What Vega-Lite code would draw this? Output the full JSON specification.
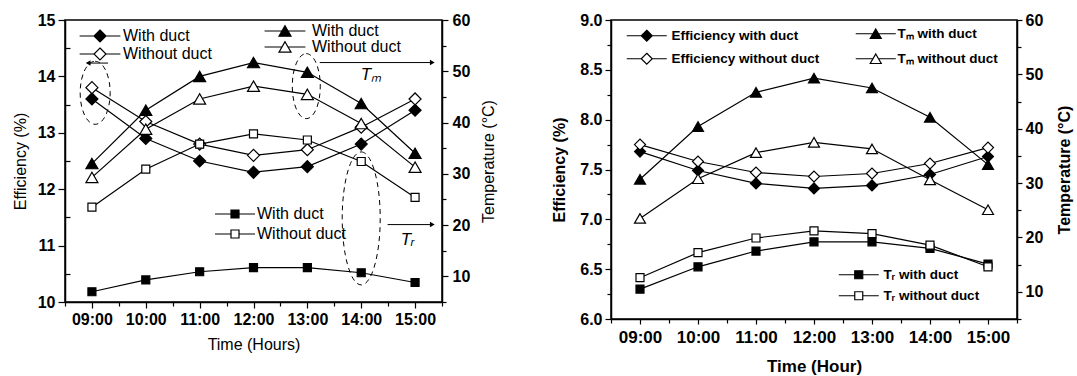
{
  "$schema": "https://vega.github.io/schema/vega-lite/v6.json",
  "background": "white",
  "padding": {"left": 11, "top": 9, "right": 0, "bottom": 0},
  "spacing": 53,
  "config": {
    "font": "Liberation Sans",
    "view": {"stroke": "black", "strokeWidth": 1.5},
    "axis": {"domainColor": "black", "domainWidth": 1.5, "tickColor": "black", "tickWidth": 1.2, "labelColor": "black", "titleColor": "black", "grid": false, "labelFont": "Liberation Sans", "titleFont": "Liberation Sans", "labelFontWeight": "bold", "labelFontSize": 16, "titleFontSize": 16, "titleFontWeight": "normal", "labelOverlap": false},
    "legend": {"labelColor": "black", "labelFont": "Liberation Sans", "orient": "none", "title": null, "padding": 0, "symbolStrokeColor": "black", "symbolStrokeWidth": 1.2}
  },
  "datasets": {
    "left": [
      {"v": "Eff", "s": "With duct", "h": 9, "y": 13.6}, {"v": "Eff", "s": "With duct", "h": 10, "y": 12.9}, {"v": "Eff", "s": "With duct", "h": 11, "y": 12.5}, {"v": "Eff", "s": "With duct", "h": 12, "y": 12.3}, {"v": "Eff", "s": "With duct", "h": 13, "y": 12.4}, {"v": "Eff", "s": "With duct", "h": 14, "y": 12.8}, {"v": "Eff", "s": "With duct", "h": 15, "y": 13.4},
      {"v": "Eff", "s": "Without duct", "h": 9, "y": 13.8}, {"v": "Eff", "s": "Without duct", "h": 10, "y": 13.2}, {"v": "Eff", "s": "Without duct", "h": 11, "y": 12.8}, {"v": "Eff", "s": "Without duct", "h": 12, "y": 12.6}, {"v": "Eff", "s": "Without duct", "h": 13, "y": 12.7}, {"v": "Eff", "s": "Without duct", "h": 14, "y": 13.1}, {"v": "Eff", "s": "Without duct", "h": 15, "y": 13.6},
      {"v": "Tm", "s": "With duct", "h": 9, "y": 32.0}, {"v": "Tm", "s": "With duct", "h": 10, "y": 42.4}, {"v": "Tm", "s": "With duct", "h": 11, "y": 49.0}, {"v": "Tm", "s": "With duct", "h": 12, "y": 51.7}, {"v": "Tm", "s": "With duct", "h": 13, "y": 49.8}, {"v": "Tm", "s": "With duct", "h": 14, "y": 43.7}, {"v": "Tm", "s": "With duct", "h": 15, "y": 34.0},
      {"v": "Tm", "s": "Without duct", "h": 9, "y": 29.3}, {"v": "Tm", "s": "Without duct", "h": 10, "y": 38.7}, {"v": "Tm", "s": "Without duct", "h": 11, "y": 44.6}, {"v": "Tm", "s": "Without duct", "h": 12, "y": 47.1}, {"v": "Tm", "s": "Without duct", "h": 13, "y": 45.5}, {"v": "Tm", "s": "Without duct", "h": 14, "y": 39.8}, {"v": "Tm", "s": "Without duct", "h": 15, "y": 31.3},
      {"v": "Tr", "s": "With duct", "h": 9, "y": 7.0}, {"v": "Tr", "s": "With duct", "h": 10, "y": 9.3}, {"v": "Tr", "s": "With duct", "h": 11, "y": 10.9}, {"v": "Tr", "s": "With duct", "h": 12, "y": 11.7}, {"v": "Tr", "s": "With duct", "h": 13, "y": 11.7}, {"v": "Tr", "s": "With duct", "h": 14, "y": 10.7}, {"v": "Tr", "s": "With duct", "h": 15, "y": 8.8},
      {"v": "Tr", "s": "Without duct", "h": 9, "y": 23.5}, {"v": "Tr", "s": "Without duct", "h": 10, "y": 30.9}, {"v": "Tr", "s": "Without duct", "h": 11, "y": 35.8}, {"v": "Tr", "s": "Without duct", "h": 12, "y": 37.8}, {"v": "Tr", "s": "Without duct", "h": 13, "y": 36.6}, {"v": "Tr", "s": "Without duct", "h": 14, "y": 32.4}, {"v": "Tr", "s": "Without duct", "h": 15, "y": 25.4}
    ],
    "right": [
      {"v": "Eff", "s": "With duct", "h": 9, "y": 7.68}, {"v": "Eff", "s": "With duct", "h": 10, "y": 7.49}, {"v": "Eff", "s": "With duct", "h": 11, "y": 7.36}, {"v": "Eff", "s": "With duct", "h": 12, "y": 7.31}, {"v": "Eff", "s": "With duct", "h": 13, "y": 7.34}, {"v": "Eff", "s": "With duct", "h": 14, "y": 7.45}, {"v": "Eff", "s": "With duct", "h": 15, "y": 7.63},
      {"v": "Eff", "s": "Without duct", "h": 9, "y": 7.75}, {"v": "Eff", "s": "Without duct", "h": 10, "y": 7.58}, {"v": "Eff", "s": "Without duct", "h": 11, "y": 7.47}, {"v": "Eff", "s": "Without duct", "h": 12, "y": 7.43}, {"v": "Eff", "s": "Without duct", "h": 13, "y": 7.46}, {"v": "Eff", "s": "Without duct", "h": 14, "y": 7.56}, {"v": "Eff", "s": "Without duct", "h": 15, "y": 7.72},
      {"v": "Tm", "s": "With duct", "h": 9, "y": 30.7}, {"v": "Tm", "s": "With duct", "h": 10, "y": 40.4}, {"v": "Tm", "s": "With duct", "h": 11, "y": 46.7}, {"v": "Tm", "s": "With duct", "h": 12, "y": 49.3}, {"v": "Tm", "s": "With duct", "h": 13, "y": 47.5}, {"v": "Tm", "s": "With duct", "h": 14, "y": 42.1}, {"v": "Tm", "s": "With duct", "h": 15, "y": 33.4},
      {"v": "Tm", "s": "Without duct", "h": 9, "y": 23.5}, {"v": "Tm", "s": "Without duct", "h": 10, "y": 30.8}, {"v": "Tm", "s": "Without duct", "h": 11, "y": 35.6}, {"v": "Tm", "s": "Without duct", "h": 12, "y": 37.5}, {"v": "Tm", "s": "Without duct", "h": 13, "y": 36.3}, {"v": "Tm", "s": "Without duct", "h": 14, "y": 30.6}, {"v": "Tm", "s": "Without duct", "h": 15, "y": 25.1},
      {"v": "Tr", "s": "With duct", "h": 9, "y": 10.5}, {"v": "Tr", "s": "With duct", "h": 10, "y": 14.6}, {"v": "Tr", "s": "With duct", "h": 11, "y": 17.5}, {"v": "Tr", "s": "With duct", "h": 12, "y": 19.2}, {"v": "Tr", "s": "With duct", "h": 13, "y": 19.2}, {"v": "Tr", "s": "With duct", "h": 14, "y": 18.0}, {"v": "Tr", "s": "With duct", "h": 15, "y": 15.1},
      {"v": "Tr", "s": "Without duct", "h": 9, "y": 12.6}, {"v": "Tr", "s": "Without duct", "h": 10, "y": 17.2}, {"v": "Tr", "s": "Without duct", "h": 11, "y": 19.9}, {"v": "Tr", "s": "Without duct", "h": 12, "y": 21.2}, {"v": "Tr", "s": "Without duct", "h": 13, "y": 20.7}, {"v": "Tr", "s": "Without duct", "h": 14, "y": 18.6}, {"v": "Tr", "s": "Without duct", "h": 15, "y": 14.6}
    ],
    "notes": [
      {"k": "arrow", "xs": 9.30, "xe": 8.93, "y": 51.6, "dir": "left"},
      {"k": "arrow", "xs": 13.23, "xe": 15.32, "y": 51.7, "dir": "right"},
      {"k": "arrow", "xs": 14.49, "xe": 15.32, "y": 20.1, "dir": "right"},
      {"k": "ellipse", "id": "a", "x": 9.06, "y": 45.8},
      {"k": "ellipse", "id": "b", "x": 12.98, "y": 47.1},
      {"k": "ellipse", "id": "c", "x": 14.0, "y": 21.3},
      {"k": "label", "x": 14.18, "y": 49.3, "t": "Tₘ"},
      {"k": "label", "x": 14.86, "y": 17.1, "t": "Tᵣ"}
    ]
  },
  "hconcat": [
    {
      "width": 377,
      "height": 282,
      "data": {"name": "left"},
      "layer": [
        {
          "transform": [{"filter": "datum.v == 'Eff'"}],
          "mark": {"type": "line", "stroke": "black", "strokeWidth": 1.2},
          "encoding": {
            "x": {"field": "h", "type": "quantitative", "scale": {"domain": [8.5, 15.5], "nice": false, "zero": false}, "axis": {"orient": "bottom", "values": [9, 10, 11, 12, 13, 14, 15], "labelExpr": "(datum.value < 10 ? '0' : '') + datum.value + ':00'", "title": "Time (Hours)", "tickSize": 6, "labelPadding": 3, "titlePadding": 9}},
            "y": {"field": "y", "type": "quantitative", "scale": {"domain": [10, 15], "nice": false, "zero": false}, "axis": {"orient": "left", "values": [10, 11, 12, 13, 14, 15], "title": "Efficiency (%)", "tickSize": 7, "labelPadding": 3, "titlePadding": 9}},
            "detail": {"field": "s"}
          }
        },
        {
          "transform": [{"filter": "datum.v == 'Eff'"}],
          "mark": {"type": "point", "shape": "diamond", "filled": true, "stroke": "black", "strokeWidth": 1.2, "size": 144, "opacity": 1},
          "encoding": {
            "x": {"field": "h", "type": "quantitative", "scale": {"domain": [8.5, 15.5], "nice": false, "zero": false}, "axis": {"orient": "bottom", "values": [8.5, 9.5, 10.5, 11.5, 12.5, 13.5, 14.5, 15.5], "labels": false, "domain": false, "tickSize": 4, "title": null}},
            "y": {"field": "y", "type": "quantitative", "scale": {"domain": [10, 15], "nice": false, "zero": false}, "axis": {"orient": "left", "values": [10.5, 11.5, 12.5, 13.5, 14.5], "labels": false, "domain": false, "tickSize": -5, "title": null}},
            "fill": {"field": "s", "type": "nominal", "scale": {"domain": ["With duct", "Without duct"], "range": ["black", "white"]}, "legend": {"legendX": 27, "legendY": 8, "symbolType": "M -3.4 0 L -1 0 M 1 0 L 3.4 0 M 0 -1 L 1 0 L 0 1 L -1 0 Z", "symbolSize": 144, "labelFontSize": 16, "labelOffset": 15, "rowPadding": 0}}
          }
        },
        {
          "transform": [{"filter": "datum.v == 'Tm'"}],
          "mark": {"type": "line", "stroke": "black", "strokeWidth": 1.2},
          "encoding": {
            "x": {"field": "h", "type": "quantitative", "scale": {"domain": [8.5, 15.5], "nice": false, "zero": false}, "axis": null},
            "y": {"field": "y", "type": "quantitative", "scale": {"domain": [5, 60], "nice": false, "zero": false}, "axis": {"orient": "right", "values": [10, 20, 30, 40, 50, 60], "title": "Temperature (°C)", "tickSize": 6, "labelPadding": 4, "titlePadding": 11, "titleAngle": 270, "titleBaseline": "top"}},
            "detail": {"field": "s"}
          }
        },
        {
          "transform": [{"filter": "datum.v == 'Tm'"}],
          "mark": {"type": "point", "shape": "triangle-up", "filled": true, "stroke": "black", "strokeWidth": 1.2, "size": 144, "opacity": 1},
          "encoding": {
            "x": {"field": "h", "type": "quantitative", "scale": {"domain": [8.5, 15.5], "nice": false, "zero": false}, "axis": null},
            "y": {"field": "y", "type": "quantitative", "scale": {"domain": [5, 60], "nice": false, "zero": false}, "axis": {"orient": "right", "values": [5, 15, 25, 35, 45, 55], "labels": false, "domain": false, "tickSize": 4, "title": null}},
            "fill": {"field": "s", "type": "nominal", "scale": {"domain": ["With duct", "Without duct"], "range": ["black", "white"]}, "legend": {"legendX": 212, "legendY": 3, "symbolType": "M -3.4 0 L -0.5 0 M 0.5 0 L 3.4 0 M 0 -0.866 L 1 0.866 L -1 0.866 Z", "symbolSize": 144, "labelFontSize": 16, "labelOffset": 19, "rowPadding": -1}}
          }
        },
        {
          "transform": [{"filter": "datum.v == 'Tr'"}],
          "mark": {"type": "line", "stroke": "black", "strokeWidth": 1.2},
          "encoding": {
            "x": {"field": "h", "type": "quantitative", "scale": {"domain": [8.5, 15.5], "nice": false, "zero": false}, "axis": null},
            "y": {"field": "y", "type": "quantitative", "scale": {"domain": [5, 60], "nice": false, "zero": false}, "axis": null},
            "detail": {"field": "s"}
          }
        },
        {
          "transform": [{"filter": "datum.v == 'Tr'"}],
          "mark": {"type": "point", "shape": "square", "filled": true, "stroke": "black", "strokeWidth": 1.2, "size": 64, "opacity": 1},
          "encoding": {
            "x": {"field": "h", "type": "quantitative", "scale": {"domain": [8.5, 15.5], "nice": false, "zero": false}, "axis": null},
            "y": {"field": "y", "type": "quantitative", "scale": {"domain": [5, 60], "nice": false, "zero": false}, "axis": null},
            "fill": {"field": "s", "type": "nominal", "scale": {"domain": ["With duct", "Without duct"], "range": ["black", "white"]}, "legend": {"legendX": 162, "legendY": 186, "symbolType": "M -5 0 L -1 0 M 1 0 L 5 0 M -1 -1 L 1 -1 L 1 1 L -1 1 Z", "symbolSize": 64, "labelFontSize": 16, "labelOffset": 14, "rowPadding": 4}}
          }
        },
        {
          "data": {"name": "notes"},
          "transform": [{"filter": "datum.k == 'arrow'"}],
          "mark": {"type": "rule", "stroke": "black", "strokeWidth": 1},
          "encoding": {
            "x": {"field": "xs", "type": "quantitative", "scale": {"domain": [8.5, 15.5], "nice": false, "zero": false}, "axis": null},
            "x2": {"field": "xe"},
            "y": {"field": "y", "type": "quantitative", "scale": {"domain": [5, 60], "nice": false, "zero": false}, "axis": null}
          }
        },
        {
          "data": {"name": "notes"},
          "transform": [{"filter": "datum.k == 'arrow'"}],
          "mark": {"type": "point", "filled": true, "fill": "black", "size": 30, "opacity": 1},
          "encoding": {
            "x": {"field": "xe", "type": "quantitative", "scale": {"domain": [8.5, 15.5], "nice": false, "zero": false}, "axis": null},
            "y": {"field": "y", "type": "quantitative", "scale": {"domain": [5, 60], "nice": false, "zero": false}, "axis": null},
            "shape": {"field": "dir", "type": "nominal", "scale": {"domain": ["left", "right"], "range": ["triangle-left", "triangle-right"]}, "legend": null}
          }
        },
        {
          "data": {"name": "notes"},
          "transform": [{"filter": "datum.k == 'ellipse'"}],
          "mark": {"type": "point", "filled": false, "stroke": "black", "strokeWidth": 1, "strokeDash": [5, 4], "size": 4, "opacity": 1},
          "encoding": {
            "x": {"field": "x", "type": "quantitative", "scale": {"domain": [8.5, 15.5], "nice": false, "zero": false}, "axis": null},
            "y": {"field": "y", "type": "quantitative", "scale": {"domain": [5, 60], "nice": false, "zero": false}, "axis": null},
            "shape": {"field": "id", "type": "nominal", "scale": {"domain": ["a", "b", "c"], "range": ["M 0 -31.5 A 15 31.5 0 1 1 0 31.5 A 15 31.5 0 1 1 0 -31.5", "M 0 -32.5 A 14 32.5 0 1 1 0 32.5 A 14 32.5 0 1 1 0 -32.5", "M 0 -66.5 A 19 66.5 0 1 1 0 66.5 A 19 66.5 0 1 1 0 -66.5"]}, "legend": null}
          }
        },
        {
          "data": {"name": "notes"},
          "transform": [{"filter": "datum.k == 'label'"}],
          "mark": {"type": "text", "fontSize": 17, "fontStyle": "italic", "align": "center", "baseline": "middle", "color": "black"},
          "encoding": {
            "x": {"field": "x", "type": "quantitative", "scale": {"domain": [8.5, 15.5], "nice": false, "zero": false}, "axis": null},
            "y": {"field": "y", "type": "quantitative", "scale": {"domain": [5, 60], "nice": false, "zero": false}, "axis": null},
            "text": {"field": "t"}
          }
        }
      ],
      "resolve": {"scale": {"x": "independent", "y": "independent", "fill": "independent", "shape": "independent"}}
    },
    {
      "width": 406,
      "height": 299,
      "title": {"text": " ", "fontSize": 2, "offset": 0},
      "data": {"name": "right"},
      "layer": [
        {
          "transform": [{"filter": "datum.v == 'Eff'"}],
          "mark": {"type": "line", "stroke": "black", "strokeWidth": 1.2},
          "encoding": {
            "x": {"field": "h", "type": "quantitative", "scale": {"domain": [8.5, 15.5], "nice": false, "zero": false}, "axis": {"orient": "bottom", "values": [9, 10, 11, 12, 13, 14, 15], "labelExpr": "(datum.value < 10 ? '0' : '') + datum.value + ':00'", "title": "Time (Hour)", "titleFontWeight": "bold", "titleFontSize": 17, "labelFontSize": 17, "tickSize": 5, "labelPadding": 5, "titlePadding": 13}},
            "y": {"field": "y", "type": "quantitative", "scale": {"domain": [6, 9], "nice": false, "zero": false}, "axis": {"orient": "left", "values": [6, 6.5, 7, 7.5, 8, 8.5, 9], "format": ".1f", "title": "Efficiency (%)", "titleFontWeight": "bold", "tickSize": 6, "labelPadding": 3, "titlePadding": 12}},
            "detail": {"field": "s"}
          }
        },
        {
          "transform": [{"filter": "datum.v == 'Eff'"}],
          "mark": {"type": "point", "shape": "diamond", "filled": true, "stroke": "black", "strokeWidth": 1.2, "size": 121, "opacity": 1},
          "encoding": {
            "x": {"field": "h", "type": "quantitative", "scale": {"domain": [8.5, 15.5], "nice": false, "zero": false}, "axis": {"orient": "bottom", "values": [8.5, 9.5, 10.5, 11.5, 12.5, 13.5, 14.5, 15.5], "labels": false, "domain": false, "tickSize": 4, "title": null}},
            "y": {"field": "y", "type": "quantitative", "scale": {"domain": [6, 9], "nice": false, "zero": false}, "axis": {"orient": "left", "values": [6.25, 6.75, 7.25, 7.75, 8.25, 8.75], "labels": false, "domain": false, "tickSize": 4, "title": null}},
            "fill": {"field": "s", "type": "nominal", "scale": {"domain": ["With duct", "Without duct"], "range": ["black", "white"]}, "legend": {"legendX": 29, "legendY": 9, "labelExpr": "datum.label == 'With duct' ? 'Efficiency with duct' : 'Efficiency without duct'", "symbolType": "M -3.64 0 L -1 0 M 1 0 L 3.64 0 M 0 -1 L 1 0 L 0 1 L -1 0 Z", "symbolSize": 121, "labelFontSize": 13.5, "labelFontWeight": "bold", "labelOffset": 18, "rowPadding": 6}}
          }
        },
        {
          "transform": [{"filter": "datum.v == 'Tm'"}],
          "mark": {"type": "line", "stroke": "black", "strokeWidth": 1.2},
          "encoding": {
            "x": {"field": "h", "type": "quantitative", "scale": {"domain": [8.5, 15.5], "nice": false, "zero": false}, "axis": null},
            "y": {"field": "y", "type": "quantitative", "scale": {"domain": [5, 60], "nice": false, "zero": false}, "axis": {"orient": "right", "values": [10, 20, 30, 40, 50, 60], "title": "Temperature (°C)", "titleFontWeight": "bold", "tickSize": 5, "labelPadding": 3, "titlePadding": 14, "titleAngle": 270, "titleBaseline": "top"}},
            "detail": {"field": "s"}
          }
        },
        {
          "transform": [{"filter": "datum.v == 'Tm'"}],
          "mark": {"type": "point", "shape": "triangle-up", "filled": true, "stroke": "black", "strokeWidth": 1.2, "size": 121, "opacity": 1},
          "encoding": {
            "x": {"field": "h", "type": "quantitative", "scale": {"domain": [8.5, 15.5], "nice": false, "zero": false}, "axis": null},
            "y": {"field": "y", "type": "quantitative", "scale": {"domain": [5, 60], "nice": false, "zero": false}, "axis": {"orient": "right", "values": [5, 15, 25, 35, 45, 55], "labels": false, "domain": false, "tickSize": 4, "title": null}},
            "fill": {"field": "s", "type": "nominal", "scale": {"domain": ["With duct", "Without duct"], "range": ["black", "white"]}, "legend": {"legendX": 258, "legendY": 7, "labelExpr": "datum.label == 'With duct' ? 'Tₘ with duct' : 'Tₘ  without duct'", "symbolType": "M -3.64 0 L -0.5 0 M 0.5 0 L 3.64 0 M 0 -0.866 L 1 0.866 L -1 0.866 Z", "symbolSize": 121, "labelFontSize": 13.5, "labelFontWeight": "bold", "labelOffset": 15, "rowPadding": 10}}
          }
        },
        {
          "transform": [{"filter": "datum.v == 'Tr'"}],
          "mark": {"type": "line", "stroke": "black", "strokeWidth": 1.2},
          "encoding": {
            "x": {"field": "h", "type": "quantitative", "scale": {"domain": [8.5, 15.5], "nice": false, "zero": false}, "axis": null},
            "y": {"field": "y", "type": "quantitative", "scale": {"domain": [5, 60], "nice": false, "zero": false}, "axis": null},
            "detail": {"field": "s"}
          }
        },
        {
          "transform": [{"filter": "datum.v == 'Tr'"}],
          "mark": {"type": "point", "shape": "square", "filled": true, "stroke": "black", "strokeWidth": 1.2, "size": 64, "opacity": 1},
          "encoding": {
            "x": {"field": "h", "type": "quantitative", "scale": {"domain": [8.5, 15.5], "nice": false, "zero": false}, "axis": null},
            "y": {"field": "y", "type": "quantitative", "scale": {"domain": [5, 60], "nice": false, "zero": false}, "axis": null},
            "fill": {"field": "s", "type": "nominal", "scale": {"domain": ["With duct", "Without duct"], "range": ["black", "white"]}, "legend": {"legendX": 241, "legendY": 248, "labelExpr": "datum.label == 'With duct' ? 'Tᵣ with duct' : 'Tᵣ without duct'", "symbolType": "M -5 0 L -1 0 M 1 0 L 5 0 M -1 -1 L 1 -1 L 1 1 L -1 1 Z", "symbolSize": 64, "labelFontSize": 13.5, "labelFontWeight": "bold", "labelOffset": 18, "rowPadding": 6}}
          }
        }
      ],
      "resolve": {"scale": {"x": "independent", "y": "independent", "fill": "independent"}}
    }
  ]
}
